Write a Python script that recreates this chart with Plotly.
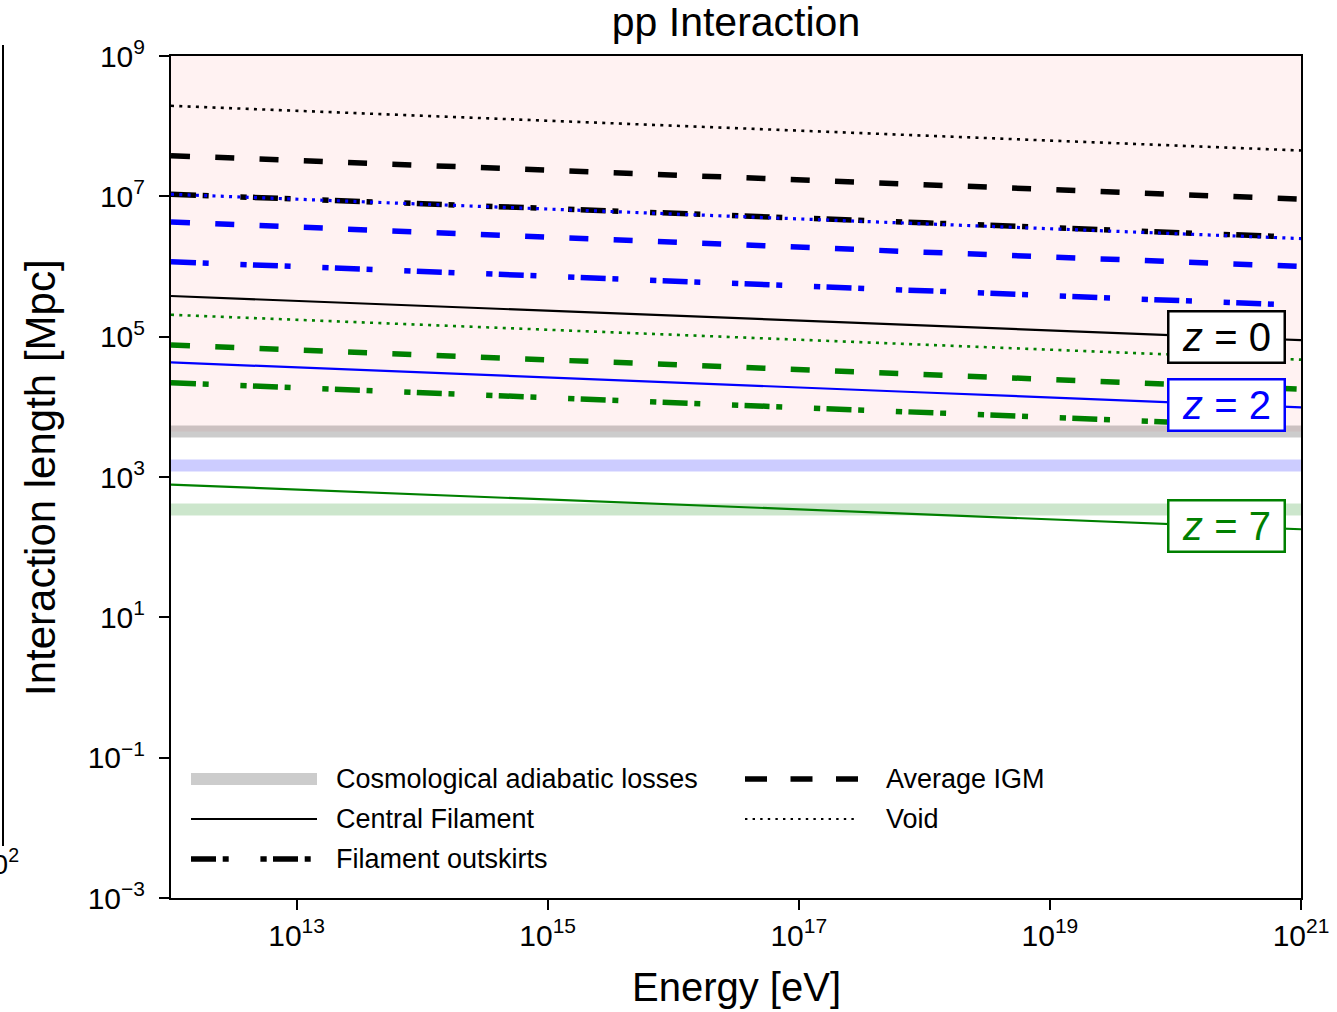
import numpy as np
import plotly.graph_objects as go

# ---------------- data ----------------
energy_eV = [1e12, 1e15, 1e18, 1e21]

# interaction length [Mpc]
z0_central = [3.8e5, 2.35e5, 1.45e5, 8.9e4]
z0_outskirts = [1.07e7, 6.8e6, 4.2e6, 2.6e6]
z0_igm = [3.8e7, 2.35e7, 1.48e7, 9.1e6]
z0_void = [1.95e8, 1.2e8, 7.4e7, 4.5e7]

z2_central = [4.3e4, 2.6e4, 1.6e4, 9.8e3]
z2_outskirts = [1.17e6, 7.2e5, 4.6e5, 2.8e5]
z2_igm = [4.3e6, 2.6e6, 1.6e6, 1.0e6]
z2_void = [1.07e7, 6.6e6, 4.1e6, 2.5e6]

z7_central = [780, 480, 295, 180]
z7_outskirts = [2.2e4, 1.35e4, 8.3e3, 5.1e3]
z7_igm = [7.6e4, 4.7e4, 2.9e4, 1.78e4]
z7_void = [2.05e5, 1.26e5, 7.8e4, 4.7e4]

redshifts = [0, 2, 7]
cosmo_length = [4.46e3, 1.46e3, 344]

x_ticks = [1e13, 1e15, 1e17, 1e19, 1e21]
x_tick_text = ["10<sup>13</sup>", "10<sup>15</sup>", "10<sup>17</sup>", "10<sup>19</sup>", "10<sup>21</sup>"]
y_ticks = [1e-3, 1e-1, 1e1, 1e3, 1e5, 1e7, 1e9]
y_tick_text = ["10<sup>\u22123</sup>", "10<sup>\u22121</sup>", "10<sup>1</sup>", "10<sup>3</sup>",
               "10<sup>5</sup>", "10<sup>7</sup>", "10<sup>9</sup>"]

legend_labels = ["Cosmological adiabatic losses", "Central Filament",
                 "Filament outskirts", "Average IGM", "Void"]

# ---------------- styles ----------------
FONT = "Liberation Sans"
colors = {0: "black", 2: "blue", 7: "green"}
band_colors = {0: "rgba(0,0,0,0.2)", 2: "rgba(0,0,255,0.2)", 7: "rgba(0,128,0,0.2)"}
DASHDOT = "25px,6.7px,6px,31.7px,6.3px,6.3px"
DASHED = "19px,25.3px"
DOTTED = "3px,5.3px"
styles = {
    "central": dict(width=2.2, dash="solid"),
    "outskirts": dict(width=5.5, dash=DASHDOT),
    "igm": dict(width=5.5, dash=DASHED),
    "void": dict(width=2.6, dash=DOTTED),
}

series = {
    0: {"central": z0_central, "outskirts": z0_outskirts, "igm": z0_igm, "void": z0_void},
    2: {"central": z2_central, "outskirts": z2_outskirts, "igm": z2_igm, "void": z2_void},
    7: {"central": z7_central, "outskirts": z7_outskirts, "igm": z7_igm, "void": z7_void},
}

fig = go.Figure()

# cosmological adiabatic loss bands
for z, L in zip(redshifts, cosmo_length):
    fig.add_trace(go.Scatter(x=[energy_eV[0], energy_eV[-1]], y=[L, L], mode="lines",
                             line=dict(color=band_colors[z], width=12),
                             showlegend=False, hoverinfo="skip"))

for z in redshifts:
    for key in ["central", "outskirts", "igm", "void"]:
        st = styles[key]
        w = st["width"]
        if key == "void" and z == 2:
            w = 3.2
        fig.add_trace(go.Scatter(x=energy_eV, y=series[z][key], mode="lines",
                                 line=dict(color=colors[z], width=w, dash=st["dash"]),
                                 showlegend=False, name=f"z={z} {key}"))

# pink region above the z=0 Hubble-scale band
fig.add_shape(type="rect", xref="x domain", yref="y", x0=0, x1=1,
              y0=cosmo_length[0], y1=1e9, fillcolor="rgb(255,242,242)",
              line=dict(width=0), layer="below")

# z labels on the central filament curves
lx = 20.41
for z in redshifts:
    ly = np.interp(lx, np.log10(energy_eV), np.log10(series[z]["central"]))
    fig.add_annotation(x=lx, y=ly, xref="x", yref="y",
                       text=f"<i>z</i>\u00a0=\u00a0{z}", showarrow=False,
                       font=dict(family=FONT, size=40, color=colors[z]),
                       bgcolor="white", bordercolor=colors[z], borderwidth=2.5,
                       borderpad=0, width=114, height=49)

# ---------------- manual legend ----------------
W, H = 1337, 1012
ML, MR, MT, MB = 171, 36, 56, 114
PW, PH = W - ML - MR, H - MT - MB


def px(xp):
    return (xp - ML) / PW


def py(yp):
    return (H - MB - yp) / PH


leg_style = [
    dict(color="rgba(0,0,0,0.2)", width=12, dash="solid"),
    dict(color="black", width=2.2, dash="solid"),
    dict(color="black", width=5.5, dash=DASHDOT),
    dict(color="black", width=5.5, dash="22px,23.5px"),
    dict(color="black", width=2.2, dash="2.4px,5.2px"),
]
leg_pos = [(0, 0), (0, 1), (0, 2), (1, 0), (1, 1)]
col_sample = [(191, 317, 334), (745, 859, 884)]
row_y = [779, 819, 859]
for lab, st, (c, r) in zip(legend_labels, leg_style, leg_pos):
    x0, x1, xt = col_sample[c]
    yy = row_y[r]
    fig.add_shape(type="line", xref="paper", yref="paper", x0=px(x0), x1=px(x1),
                  y0=py(yy), y1=py(yy), line=dict(color=st["color"], width=st["width"], dash=st["dash"]))
    fig.add_annotation(xref="paper", yref="paper", x=px(xt), y=py(yy), text=lab,
                       showarrow=False, xanchor="left", yanchor="middle",
                       font=dict(family=FONT, size=27, color="black"))

# axis titles
fig.add_annotation(xref="paper", yref="paper", x=0.5, y=py(987), text="Energy [eV]",
                   showarrow=False, xanchor="center", yanchor="middle",
                   font=dict(family=FONT, size=40, color="black"))
fig.add_annotation(xref="paper", yref="paper", x=px(40), y=py(478), text="Interaction length [Mpc]",
                   showarrow=False, xanchor="center", yanchor="middle", textangle=-90,
                   font=dict(family=FONT, size=42, color="black"))

# remnant of neighbouring panel on the left edge
fig.add_shape(type="line", xref="paper", yref="paper", x0=px(3), x1=px(3),
              y0=py(45), y1=py(846), line=dict(color="black", width=2))
fig.add_annotation(xref="paper", yref="paper", x=px(21), y=py(862), text="10<sup>2</sup>",
                   showarrow=False, xanchor="right", yanchor="middle",
                   font=dict(family=FONT, size=28, color="black"))

fig.update_layout(
    width=W, height=H,
    margin=dict(l=ML, r=MR, t=MT, b=MB, autoexpand=False),
    paper_bgcolor="white", plot_bgcolor="white",
    font=dict(family=FONT, color="black"),
    title=dict(text="pp Interaction", x=0.5, xref="paper", y=1 - 22 / H, yanchor="middle",
               font=dict(family=FONT, size=41, color="black")),
    showlegend=False,
)
axis_common = dict(showgrid=False, zeroline=False, showline=True, linecolor="black",
                   linewidth=2, mirror=True, ticks="outside", ticklen=10, tickwidth=1.6,
                   tickcolor="black", tickfont=dict(family=FONT, size=30, color="black"))
fig.update_xaxes(type="log", range=[12, 21], tickmode="array", tickvals=x_ticks,
                 ticktext=x_tick_text, **axis_common)
fig.update_yaxes(type="log", range=[-3, 9], tickmode="array", tickvals=y_ticks,
                 ticktext=y_tick_text, ticklabelstandoff=8, **axis_common)

fig.write_html("out.html", config={"displayModeBar": False},
               post_script="document.body.style.margin='0px';document.body.style.overflow='hidden';")
